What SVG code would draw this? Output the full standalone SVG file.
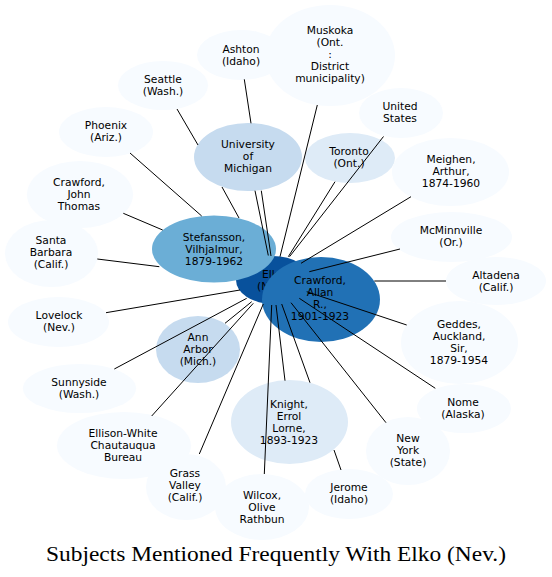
<svg xmlns="http://www.w3.org/2000/svg" width="552" height="577" viewBox="0 0 552 577">
<style>
.n text{font-family:"DejaVu Sans",sans-serif;font-size:10.7px;text-anchor:middle;fill:#000}
.n ellipse{stroke:none}
.c0{fill:#f7fbff}.c1{fill:#deebf7}.c2{fill:#c6dbef}.c3{fill:#6baed6}.c4{fill:#2171b5}.c5{fill:#08519c}
#edges path{stroke:#000;stroke-width:1;fill:none}
.title{font-family:"Liberation Serif",serif;font-size:20px;text-anchor:middle;fill:#000}
</style>
<rect width="552" height="577" fill="#fff"/>
<g id="nodes">
<g id="elko" class="n"><ellipse class="c5" cx="273" cy="280" rx="37" ry="24"/><text x="273" y="277.8">Elko</text><text x="273" y="289.8">(Nev.)</text></g>
<g id="stefansson" class="n"><ellipse class="c3" cx="214" cy="249" rx="62" ry="33.5"/><text x="214" y="240.8">Stefansson,</text><text x="214" y="252.8">Vilhjalmur,</text><text x="214" y="264.8">1879-1962</text></g>
<g id="crawford_allan" class="n"><ellipse class="c4" cx="321" cy="299.5" rx="59" ry="42.5"/><text x="320" y="284">Crawford,</text><text x="320" y="296">Allan</text><text x="320" y="308">R.,</text><text x="320" y="320">1901-1923</text></g>
<g id="university_of_michigan" class="n"><ellipse class="c2" cx="248" cy="157" rx="54" ry="34"/><text x="248" y="148">University</text><text x="248" y="160">of</text><text x="248" y="172">Michigan</text></g>
<g id="ann_arbor" class="n"><ellipse class="c2" cx="198" cy="349.5" rx="42" ry="33.5"/><text x="198" y="341">Ann</text><text x="198" y="353">Arbor</text><text x="198" y="365">(Mich.)</text></g>
<g id="toronto" class="n"><ellipse class="c1" cx="350" cy="158" rx="45" ry="25"/><text x="349" y="154.5">Toronto</text><text x="349" y="166.5">(Ont.)</text></g>
<g id="knight" class="n"><ellipse class="c1" cx="289.5" cy="422" rx="58.5" ry="42"/><text x="289" y="408">Knight,</text><text x="289" y="420">Errol</text><text x="289" y="432">Lorne,</text><text x="289" y="444">1893-1923</text></g>
<g id="muskoka" class="n"><ellipse class="c0" cx="330" cy="55.5" rx="65" ry="50.5"/><text x="330" y="33.5">Muskoka</text><text x="330" y="45.5">(Ont.</text><text x="330" y="57.5">:</text><text x="330" y="69.5">District</text><text x="330" y="81.5">municipality)</text></g>
<g id="ashton" class="n"><ellipse class="c0" cx="241" cy="55" rx="44" ry="25"/><text x="241" y="52.5">Ashton</text><text x="241" y="64.5">(Idaho)</text></g>
<g id="seattle" class="n"><ellipse class="c0" cx="163" cy="85.5" rx="45" ry="24.5"/><text x="163" y="82.5">Seattle</text><text x="163" y="94.5">(Wash.)</text></g>
<g id="phoenix" class="n"><ellipse class="c0" cx="106" cy="132" rx="47" ry="25"/><text x="106" y="128.7">Phoenix</text><text x="106" y="140.7">(Ariz.)</text></g>
<g id="crawford_john_thomas" class="n"><ellipse class="c0" cx="80" cy="194.5" rx="53" ry="33.5"/><text x="79" y="185.5">Crawford,</text><text x="79" y="197.5">John</text><text x="79" y="209.5">Thomas</text></g>
<g id="santa_barbara" class="n"><ellipse class="c0" cx="51.5" cy="253.5" rx="46.5" ry="33.5"/><text x="51" y="243.7">Santa</text><text x="51" y="255.7">Barbara</text><text x="51" y="267.7">(Calif.)</text></g>
<g id="united_states" class="n"><ellipse class="c0" cx="401" cy="113" rx="42" ry="25"/><text x="400" y="109.7">United</text><text x="400" y="121.7">States</text></g>
<g id="meighen" class="n"><ellipse class="c0" cx="450.5" cy="172" rx="58.5" ry="34"/><text x="451" y="162.7">Meighen,</text><text x="451" y="174.7">Arthur,</text><text x="451" y="186.7">1874-1960</text></g>
<g id="mcminnville" class="n"><ellipse class="c0" cx="451.5" cy="237" rx="60.5" ry="25"/><text x="451" y="233.7">McMinnville</text><text x="451" y="245.7">(Or.)</text></g>
<g id="altadena" class="n"><ellipse class="c0" cx="496" cy="281" rx="50" ry="24"/><text x="496" y="278.5">Altadena</text><text x="496" y="290.5">(Calif.)</text></g>
<g id="geddes" class="n"><ellipse class="c0" cx="459.5" cy="342.5" rx="58.5" ry="41.5"/><text x="459" y="327.7">Geddes,</text><text x="459" y="339.7">Auckland,</text><text x="459" y="351.7">Sir,</text><text x="459" y="363.7">1879-1954</text></g>
<g id="nome" class="n"><ellipse class="c0" cx="464" cy="408.5" rx="47" ry="24.5"/><text x="463" y="405.5">Nome</text><text x="463" y="417.5">(Alaska)</text></g>
<g id="new_york" class="n"><ellipse class="c0" cx="408" cy="451" rx="42" ry="34"/><text x="408" y="441.7">New</text><text x="408" y="453.7">York</text><text x="408" y="465.7">(State)</text></g>
<g id="jerome" class="n"><ellipse class="c0" cx="349" cy="494" rx="44" ry="25"/><text x="349" y="490.7">Jerome</text><text x="349" y="502.7">(Idaho)</text></g>
<g id="wilcox" class="n"><ellipse class="c0" cx="262" cy="507" rx="47" ry="33"/><text x="262" y="498.7">Wilcox,</text><text x="262" y="510.7">Olive</text><text x="262" y="522.7">Rathbun</text></g>
<g id="grass_valley" class="n"><ellipse class="c0" cx="186" cy="487" rx="40" ry="33"/><text x="185" y="476.7">Grass</text><text x="185" y="488.7">Valley</text><text x="185" y="500.7">(Calif.)</text></g>
<g id="ellison_white" class="n"><ellipse class="c0" cx="124" cy="445.5" rx="67" ry="33.5"/><text x="123" y="436.7">Ellison-White</text><text x="123" y="448.7">Chautauqua</text><text x="123" y="460.7">Bureau</text></g>
<g id="sunnyside" class="n"><ellipse class="c0" cx="79.5" cy="388.5" rx="56.5" ry="24.5"/><text x="79" y="385.5">Sunnyside</text><text x="79" y="397.5">(Wash.)</text></g>
<g id="lovelock" class="n"><ellipse class="c0" cx="58.5" cy="322" rx="50.5" ry="25"/><text x="59" y="318.7">Lovelock</text><text x="59" y="330.7">(Nev.)</text></g>
</g>
<g id="edges">
<path d="M244.3,79.3L251,123.3M261.3,190.7L271,256"/>
<path d="M255,190.7L268.3,255.5"/>
<path d="M177,109L198,145M222,187L239,218"/>
<path d="M130,153L201.7,216"/>
<path d="M123.3,213.3L162.7,230"/>
<path d="M97.3,259L159.3,266.7"/>
<path d="M317.3,105L280,256.7"/>
<path d="M335,181.7L288.3,256.7"/>
<path d="M383.5,136.5L289.5,256.7"/>
<path d="M411,196.7L301,263.3"/>
<path d="M400,249L309.3,271.7"/>
<path d="M374.3,281L446,281"/>
<path d="M306.7,291.7L406.7,325"/>
<path d="M299.3,298.3L435.3,388.3"/>
<path d="M291,302.7L386,422.7"/>
<path d="M281.7,304L310,382.7M334,450L341,470"/>
<path d="M276,305L285,380.7"/>
<path d="M271.7,305L264.3,474"/>
<path d="M263.3,304L199.3,454"/>
<path d="M253.3,303.3L151.7,416"/>
<path d="M251.7,301.7L225,323.3"/>
<path d="M246.7,298.3L114.3,369"/>
<path d="M106,312.7L240,290"/>
</g>
<text class="title" x="276" y="561" textLength="460" lengthAdjust="spacingAndGlyphs">Subjects Mentioned Frequently With Elko (Nev.)</text>
</svg>
